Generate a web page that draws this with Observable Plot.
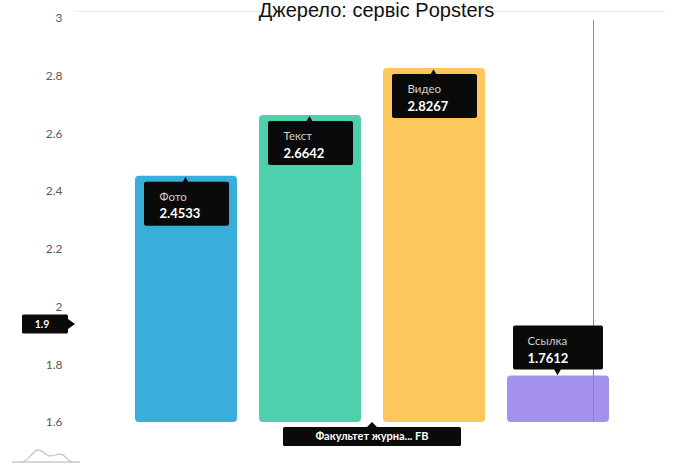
<!DOCTYPE html>
<html>
<head>
<meta charset="utf-8">
<script src="https://cdn.jsdelivr.net/npm/d3@7"></script>
<script src="https://cdn.jsdelivr.net/npm/@observablehq/plot@0.6"></script>
<style>
  html, body { margin: 0; padding: 0; background: #fff; }
  #wrap { position: relative; width: 695px; height: 472px; overflow: hidden; }
  #icon { position: absolute; left: 10px; top: 445px; }
</style>
</head>
<body>
<div id="wrap">
  <div id="chart"></div>
  <svg id="icon" width="80" height="22" viewBox="0 0 80 22">
    <path d="M2 17 H70" stroke="#c8c8c8" stroke-width="1.3" fill="none"/>
    <path d="M12 17 C 19 16, 23 5, 28 5 C 33 5, 36 11, 40 11 C 44 11, 46 9, 50 9 C 55 9, 57 16, 62 17" stroke="#c8c8c8" stroke-width="1.3" fill="none"/>
  </svg>
</div>
<script>
const title = "Джерело: сервіс Popsters";
const categories = ["Фото", "Текст", "Видео", "Ссылка"];
const values = [2.4533, 2.6642, 2.8267, 1.7612];
const colors = ["#3aaedb", "#4fd0ad", "#fdc85b", "#a491ee"];
const yTicks = [1.6, 1.8, 2, 2.2, 2.4, 2.6, 2.8, 3];
const crosshairY = 1.94;
const crosshairCategory = "Ссылка";
const seriesLabel = "Факультет журна... FB";

const yMin = yTicks[0], yMax = yTicks[yTicks.length - 1];
const data = categories.map((c, i) => ({cat: c, value: values[i]}));
const below = data.filter(d => d.value >= 2);
const above = data.filter(d => d.value < 2);
const FONT = "Lato, 'Open Sans', sans-serif";

function yTag(index, scales, vals, dims) {
  const cy = scales.y(crosshairY);
  const g = d3.create("svg:g");
  const right = dims.marginLeft - 43;
  g.append("rect").attr("x", right - 46).attr("y", cy - 9.5).attr("width", 46).attr("height", 19)
    .attr("rx", 1.5).attr("fill", "#0a0a0a");
  g.append("path").attr("d", `M${right},${cy - 5}L${right + 7},${cy}L${right},${cy + 5}Z`).attr("fill", "#0a0a0a");
  g.append("text").attr("x", right - 26).attr("y", cy).attr("dy", "0.35em").attr("text-anchor", "middle")
    .attr("fill", "#fff").attr("font-weight", "bold").attr("font-size", 10.5).attr("font-family", FONT)
    .text(d3.format(".1f")(crosshairY));
  return g.node();
}

function xTag(index, scales, vals, dims) {
  const cx = (dims.marginLeft + dims.width - dims.marginRight) / 2;
  const top = scales.y(yMin) + 5;
  const g = d3.create("svg:g");
  g.append("rect").attr("x", cx - 89).attr("y", top).attr("width", 178).attr("height", 19)
    .attr("rx", 1.5).attr("fill", "#0a0a0a");
  g.append("path").attr("d", `M${cx - 5},${top}L${cx},${top - 5}L${cx + 5},${top}Z`).attr("fill", "#0a0a0a");
  g.append("text").attr("x", cx).attr("y", top + 9.5).attr("dy", "0.35em").attr("text-anchor", "middle")
    .attr("fill", "#fff").attr("font-weight", "bold").attr("font-size", 11).attr("font-family", FONT)
    .text(seriesLabel);
  return g.node();
}

const chart = Plot.plot({
  width: 695,
  height: 472,
  marginTop: 18,
  marginBottom: 50,
  marginLeft: 111,
  marginRight: 62,
  style: {fontFamily: FONT, background: "#fff"},
  x: {domain: categories, padding: 0.18, axis: null},
  y: {domain: [yMin, yMax], axis: null},
  color: {domain: categories, range: colors},
  marks: [
    Plot.ruleY([yMax], {dy: -7, stroke: "#ececec", insetLeft: -36, insetRight: -32}),
    Plot.axisY({ticks: yTicks, tickSize: 0, tickPadding: 49, fontSize: 12, fill: "#5a5a5a", label: null,
      tickFormat: d => String(+d.toFixed(1))}),
    Plot.barY(data, {x: "cat", y1: yMin, y2: "value", fill: "cat", rx: 4}),
    Plot.ruleX([crosshairCategory], {x: d => d, dx: 35, y1: yMax, y2: yMin, insetTop: 2, stroke: "#8a8a8a", strokeWidth: 1}),
    // tooltips inside bars
    Plot.barY(below, {x: "cat", y1: "value", y2: "value", insetLeft: 9, insetRight: 8, insetTop: 0, insetBottom: -44, dy: 6, fill: "#0a0a0a", rx: 2}),
    Plot.dot(below, {x: "cat", y: "value", symbol: "triangle", r: 2.8, fill: "#0a0a0a", dy: 5, dx: -1}),
    Plot.text(below, {x: "cat", y: "value", text: "cat", textAnchor: "start", dx: -27, dy: 21, fill: "#cfcfcf", fontSize: 11.5}),
    Plot.text(below, {x: "cat", y: "value", text: d => d.value.toFixed(4), textAnchor: "start", dx: -27, dy: 38, fill: "#fff", fontSize: 13, fontWeight: "bold"}),
    // tooltips above short bars
    Plot.barY(above, {x: "cat", y1: "value", y2: "value", insetLeft: 6, insetRight: 6, insetTop: -44, insetBottom: 0, dy: -6, fill: "#0a0a0a", rx: 2}),
    Plot.dot(above, {x: "cat", y: "value", symbol: "triangle", rotate: 180, r: 2.8, fill: "#0a0a0a", dy: -5, dx: -1}),
    Plot.text(above, {x: "cat", y: "value", text: "cat", textAnchor: "start", dx: -31, dy: -35, fill: "#cfcfcf", fontSize: 11.5}),
    Plot.text(above, {x: "cat", y: "value", text: d => d.value.toFixed(4), textAnchor: "start", dx: -31, dy: -17, fill: "#fff", fontSize: 13, fontWeight: "bold"}),
    yTag,
    xTag,
    Plot.text([title], {frameAnchor: "top", text: d => d, dx: 4, dy: -2, lineAnchor: "bottom",
      fontSize: 20, fill: "#111", fontFamily: "'Liberation Sans', Arial, sans-serif"})
  ]
});
document.getElementById("chart").appendChild(chart);
</script>
</body>
</html>
